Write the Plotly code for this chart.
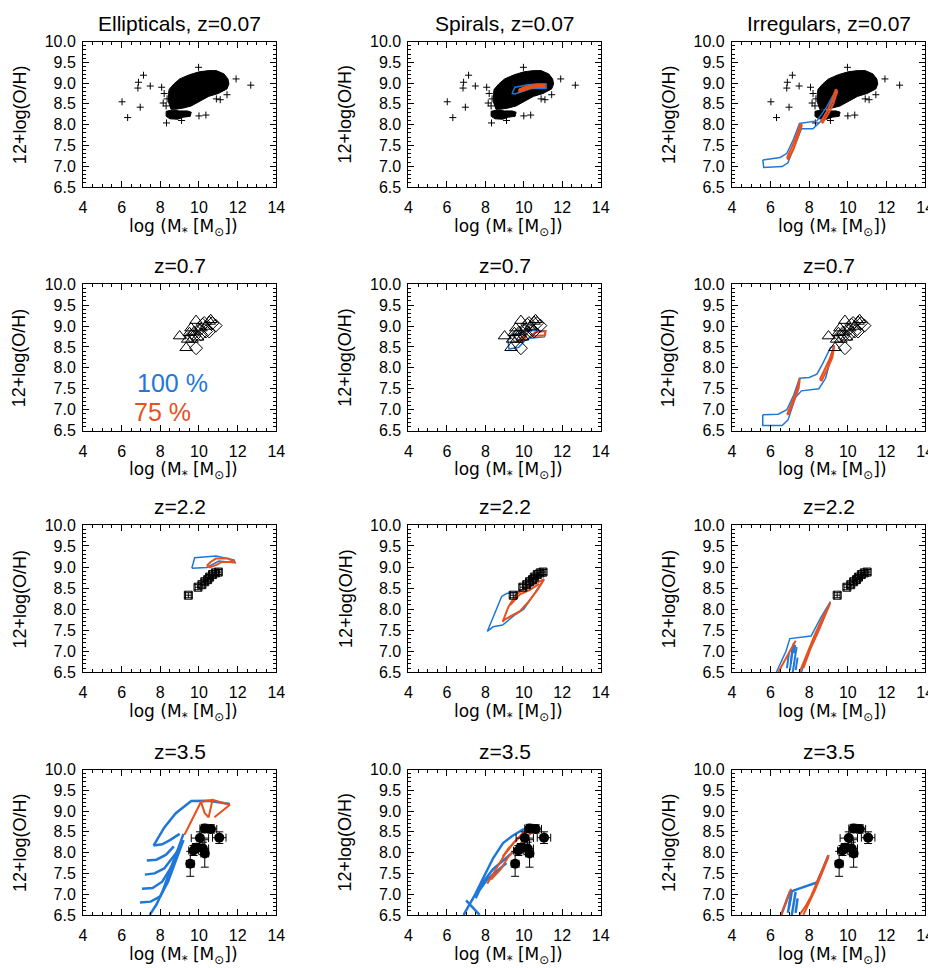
import plotly.graph_objects as go

BLUE = "#1f78d8"
ORANGE = "#e8501e"

# ---------------- data ----------------
# local sample (z=0.07): dense cloud outline + outliers
ell_blob_x = [8.46, 8.7, 9.0, 9.5, 10.0, 10.5, 10.9, 11.3, 11.5, 11.55, 11.45, 11.0, 10.5, 10.0, 9.6, 9.2, 8.8, 8.55, 8.42, 8.42, 8.46]
ell_blob_y = [8.85, 8.98, 9.1, 9.2, 9.27, 9.3, 9.3, 9.22, 9.1, 8.98, 8.86, 8.75, 8.68, 8.55, 8.45, 8.4, 8.37, 8.37, 8.55, 8.75, 8.85]
ell_strip_x = [8.3, 8.6, 9.0, 9.4, 9.6, 9.55, 9.2, 8.9, 8.5, 8.3, 8.3]
ell_strip_y = [8.32, 8.35, 8.33, 8.33, 8.3, 8.2, 8.18, 8.13, 8.14, 8.2, 8.32]
out_x = [6.02, 6.31, 6.84, 6.87, 7.13, 6.96, 7.48, 8.07, 8.15, 8.2, 11.92, 12.68, 10.0, 10.36, 9.98, 8.32, 11.45, 10.9, 11.1, 9.1, 8.35, 8.3]
out_y = [8.55, 8.17, 8.88, 9.02, 9.19, 8.42, 8.93, 8.90, 8.52, 8.75, 9.10, 8.95, 8.21, 8.23, 9.38, 8.04, 8.72, 8.62, 8.60, 8.10, 8.62, 8.45]

# z=0.7 data
tri_x = [9.0, 9.34, 9.85, 9.51, 9.64, 9.76, 9.93, 10.10, 10.36, 10.53, 10.61, 9.42, 9.59]
tri_y = [8.76, 8.48, 9.13, 8.84, 8.68, 8.87, 8.73, 8.95, 8.99, 9.11, 9.15, 8.68, 8.95]
dia_x = [9.85, 10.53, 10.86, 10.69, 10.27, 10.02, 9.76, 10.10, 10.36, 9.59, 10.19]
dia_y = [8.47, 8.87, 9.01, 9.07, 9.07, 8.91, 8.76, 8.80, 8.87, 8.76, 9.03]

# z=2.2 data
sq_x = [9.45, 9.95, 10.15, 10.3, 10.45, 10.55, 10.7, 10.85, 11.0]
sq_y = [8.33, 8.52, 8.58, 8.65, 8.70, 8.76, 8.82, 8.86, 8.88]
sq_xerr = [0.15, 0.15, 0.15, 0.15, 0.15, 0.15, 0.15, 0.15, 0.15]
sq_yerr = [0.06, 0.06, 0.06, 0.06, 0.06, 0.06, 0.06, 0.06, 0.06]

# z=3.5 data
ci_x = [9.55, 9.72, 9.85, 10.05, 10.2, 10.3, 10.3, 10.62, 11.05]
ci_y = [7.73, 8.05, 8.12, 8.35, 8.10, 7.98, 8.58, 8.57, 8.36]
ci_xerr = [0.2, 0.25, 0.2, 0.45, 0.3, 0.2, 0.25, 0.3, 0.35]
ci_yerr = [0.3, 0.12, 0.1, 0.15, 0.15, 0.33, 0.1, 0.1, 0.14]

# model regions
sp007_blue_x = [9.4, 9.54, 9.9, 10.22, 10.73, 11.16, 11.16, 10.7, 10.39, 9.88, 9.54, 9.4, 9.4]
sp007_blue_y = [8.76, 8.9, 8.93, 8.96, 8.98, 8.98, 8.87, 8.87, 8.87, 8.79, 8.74, 8.75, 8.76]
sp007_or_x = [9.75, 10.0, 10.3, 10.7, 11.1, 11.1, 10.7, 10.3, 10.0, 9.75, 9.75]
sp007_or_y = [8.85, 8.9, 8.94, 8.97, 8.97, 8.9, 8.9, 8.87, 8.82, 8.79, 8.85]

ir007_blue_x = [5.6, 6.5, 6.85, 7.2, 7.5, 8.4, 8.9, 9.4, 9.45, 9.1, 8.6, 8.2, 7.6, 7.3, 6.9, 6.6, 5.65, 5.6]
ir007_blue_y = [7.15, 7.21, 7.31, 7.66, 8.03, 8.09, 8.42, 8.84, 8.78, 8.45, 8.08, 7.9, 7.9, 7.55, 7.08, 6.99, 6.97, 7.15]
ir007_or1_x = [6.85, 7.1, 7.35, 7.55, 7.62, 7.42, 7.18, 6.92, 6.85]
ir007_or1_y = [7.2, 7.45, 7.75, 8.02, 7.98, 7.7, 7.4, 7.17, 7.2]
ir007_or2_x = [8.62, 8.9, 9.15, 9.38, 9.45, 9.25, 8.98, 8.7, 8.62]
ir007_or2_y = [8.08, 8.3, 8.55, 8.85, 8.8, 8.5, 8.25, 8.05, 8.08]

sp07_blue_x = [9.18, 9.23, 9.74, 10.05, 10.35, 11.07, 11.13, 10.45, 9.84, 9.33, 9.18]
sp07_blue_y = [8.66, 8.45, 8.49, 8.65, 8.71, 8.74, 8.88, 8.9, 8.84, 8.77, 8.66]
sp07_or1_x = [9.7, 9.9, 10.15, 10.1, 9.85, 9.7]
sp07_or1_y = [8.62, 8.7, 8.82, 8.72, 8.62, 8.62]
sp07_or2_x = [10.4, 10.6, 11.13, 11.1, 10.5, 10.4]
sp07_or2_y = [8.78, 8.85, 8.88, 8.78, 8.76, 8.78]

ir07_blue_x = [5.6, 6.4, 6.85, 7.2, 7.5, 8.0, 8.4, 8.7, 9.1, 9.3, 9.1, 8.85, 8.5, 7.6, 7.3, 6.9, 6.6, 5.6, 5.6]
ir07_blue_y = [6.88, 6.89, 7.0, 7.35, 7.75, 7.77, 7.85, 8.1, 8.48, 8.53, 8.2, 7.75, 7.5, 7.45, 7.3, 6.75, 6.62, 6.62, 6.88]
ir07_or1_x = [6.86, 7.1, 7.35, 7.52, 7.45, 7.2, 6.95, 6.86]
ir07_or1_y = [6.88, 7.15, 7.45, 7.75, 7.5, 7.2, 6.9, 6.88]
ir07_or2_x = [8.55, 8.8, 9.05, 9.3, 9.2, 8.95, 8.65, 8.55]
ir07_or2_y = [7.72, 7.95, 8.2, 8.53, 8.25, 7.98, 7.7, 7.72]

ell22_blue_x = [9.63, 9.78, 10.88, 11.81, 11.87, 11.03, 10.41, 9.63]
ell22_blue_y = [8.97, 9.22, 9.26, 9.17, 9.1, 9.14, 8.99, 8.97]
ell22_or_x = [10.41, 10.6, 10.88, 11.5, 11.87, 11.19, 10.9, 10.56, 10.41]
ell22_or_y = [9.03, 9.12, 9.2, 9.2, 9.12, 9.12, 9.05, 8.99, 9.03]

sp22_blue_x = [8.1, 8.5, 8.85, 9.1, 9.6, 10.2, 10.7, 11.05, 10.6, 10.0, 9.5, 8.9, 8.4, 8.1]
sp22_blue_y = [7.47, 7.9, 8.3, 8.37, 8.4, 8.5, 8.62, 8.72, 8.4, 8.0, 7.85, 7.62, 7.58, 7.47]
sp22_or1_x = [8.9, 9.2, 9.6, 10.1, 10.6, 11.05, 10.7, 10.2, 9.8, 9.4, 9.0, 8.9]
sp22_or1_y = [7.7, 8.05, 8.35, 8.5, 8.62, 8.7, 8.45, 8.15, 7.95, 7.85, 7.75, 7.7]
sp22_or2_x = [9.3, 9.8, 10.3, 10.8]
sp22_or2_y = [8.1, 8.35, 8.45, 8.6]

ir22_blue_x = [6.3, 6.8, 7.0, 7.6, 8.1, 8.6, 9.1, 8.5, 8.1, 7.8, 7.6]
ir22_blue_y = [6.5, 7.0, 7.3, 7.33, 7.36, 7.8, 8.18, 7.5, 7.1, 6.8, 6.5]
ir22_bs_x = [7.0, 7.1, 7.2, None, 7.15, 7.25, 7.35, None, 6.85, 6.95, None, 7.3, 7.4, None, 7.05, 7.12, None, 7.2, 7.28]
ir22_bs_y = [6.55, 6.9, 7.2, None, 6.5, 6.8, 7.1, None, 6.6, 6.95, None, 6.55, 6.85, None, 6.7, 7.05, None, 6.95, 7.15]
ir22_or1_x = [6.4, 6.8, 7.3]
ir22_or1_y = [6.5, 6.85, 7.25]
ir22_or2_x = [7.5, 7.8, 8.3, 8.7, 9.1]
ir22_or2_y = [6.5, 6.85, 7.4, 7.8, 8.15]
ir22_or3_x = [7.7, 8.1, 8.5, 9.05]
ir22_or3_y = [6.6, 7.1, 7.5, 8.1]

ell35_blue_x = [7.45, 7.8, 8.1, 8.5, 8.9, 9.2, None, 6.95, 7.5, 8.0, 8.4, 8.8, 9.2, None,
                7.05, 7.6, 8.1, 8.5, 8.9, None, 7.2, 7.7, 8.2, 8.6, 9.0, None,
                7.3, 7.8, 8.3, 8.7, None, 7.65, 8.1, 8.5, 9.0, None,
                7.65, 8.2, 8.8, 9.6, 10.5, 11.6]
ell35_blue_y = [6.5, 6.75, 7.05, 7.55, 8.05, 8.45, None, 6.8, 6.82, 6.95, 7.3, 7.8, 8.3, None,
                7.13, 7.15, 7.3, 7.6, 8.0, None, 7.47, 7.5, 7.62, 7.85, 8.1, None,
                7.81, 7.83, 7.95, 8.15, None, 8.17, 8.2, 8.3, 8.45, None,
                8.17, 8.6, 8.95, 9.24, 9.25, 9.17]
ell35_or_x = [9.25, 9.6, 9.9, 10.1, 10.7, 11.6, 11.2, 10.8, None, 10.1, 10.3, 10.5, 10.7]
ell35_or_y = [8.43, 8.75, 9.05, 9.22, 9.27, 9.15, 9.0, 8.85, None, 9.22, 8.95, 8.85, 9.27]

sp35_blue_x = [6.87, 7.48, 7.89, 8.41, 8.92, 9.4, 9.94, 10.4, 10.76, None, 7.5, 7.9, 8.4, 8.9, 9.4, None,
               7.7, 8.1, 8.6, 9.1, None, 7.7, 7.3, 7.0]
sp35_blue_y = [6.5, 7.0, 7.39, 7.87, 8.23, 8.4, 8.55, 8.6, 8.62, None, 6.9, 7.3, 7.6, 7.8, 8.0, None,
               7.1, 7.35, 7.55, 7.75, None, 6.5, 6.7, 6.85]
sp35_or_x = [8.1, 8.5, 9.0, 9.5, 10.0, 10.4, None, 8.3, 8.8, 9.2, 9.7, 10.2, 10.6, None, 8.9, 9.2, 9.6, 10.0]
sp35_or_y = [7.25, 7.55, 7.95, 8.25, 8.45, 8.58, None, 7.35, 7.6, 7.9, 8.15, 8.4, 8.55, None, 7.9, 8.1, 8.3, 8.5]

ir35_blue_x = [6.55, 7.0, 7.4, 7.9, 8.4, 8.7, 9.0, None, 6.9, 7.0, 7.1, None, 7.1, 7.2, 7.3, None, 7.3, 7.4, None, 6.95, 7.05]
ir35_blue_y = [6.5, 7.05, 7.12, 7.2, 7.28, 7.6, 7.94, None, 6.55, 6.85, 7.05, None, 6.5, 6.8, 7.05, None, 6.55, 6.9, None, 6.7, 6.95]
ir35_or_x = [6.55, 6.8, 7.06, None, 7.5, 7.8, 8.1, 8.5, 9.0, None, 7.7, 8.0, 8.3, 8.7, 9.0]
ir35_or_y = [6.5, 6.8, 7.13, None, 6.5, 6.7, 6.95, 7.4, 7.94, None, 6.5, 6.8, 7.1, 7.55, 7.9]

titles = [["Ellipticals, z=0.07", "Spirals, z=0.07", "Irregulars, z=0.07"],
          ["z=0.7", "z=0.7", "z=0.7"],
          ["z=2.2", "z=2.2", "z=2.2"],
          ["z=3.5", "z=3.5", "z=3.5"]]
x_ticks = [4, 6, 8, 10, 12, 14]
y_ticks = [6.5, 7.0, 7.5, 8.0, 8.5, 9.0, 9.5, 10.0]
y_ticktext = ["6.5", "7.0", "7.5", "8.0", "8.5", "9.0", "9.5", "10.0"]

# ---------------- layout ----------------
W, H = 936, 968
col_px = [(72, 268), (402, 597), (730, 926)]
row_px = [(26, 174), (273, 422), (518, 668), (767, 915)]
FONT = "Liberation Sans"
BOLDFONT = "DejaVu Sans"

fig = go.Figure()
layout = dict(width=W, height=H, margin=dict(l=0, r=0, t=0, b=0),
              paper_bgcolor="white", plot_bgcolor="white", showlegend=False,
              font=dict(family=FONT, color="black"))
annotations = []

for r in range(4):
    for c in range(3):
        i = r * 3 + c + 1
        xa = "x" if i == 1 else f"x{i}"
        ya = "y" if i == 1 else f"y{i}"
        x0, x1 = col_px[c]
        t, b = row_px[r]
        common = dict(showgrid=False, zeroline=False, showline=True, linecolor="black", linewidth=1,
                      mirror="allticks", ticks="inside", ticklen=6, tickcolor="black", tickwidth=1,
                      tickfont=dict(size=16, color="black", family=FONT))
        layout["xaxis" if i == 1 else f"xaxis{i}"] = dict(
            domain=[x0 / W, x1 / W], anchor=ya, range=[4, 14], tickmode="array", tickvals=x_ticks,
            minor=dict(ticks="inside", ticklen=3, dtick=0.5, tick0=4, tickcolor="black"),
            ticklabelstandoff=6, **common)
        layout["yaxis" if i == 1 else f"yaxis{i}"] = dict(
            domain=[1 - b / H, 1 - t / H], anchor=xa, range=[6.5, 10.0], tickmode="array",
            tickvals=y_ticks, ticktext=y_ticktext,
            minor=dict(ticks="inside", ticklen=3, dtick=0.1, tick0=6.5, tickcolor="black"),
            ticklabelstandoff=3, **common)
        cx = (x0 + x1) / 2 / W
        annotations.append(dict(text=titles[r][c], x=cx, y=1 - (t - 5) / H, xref="paper", yref="paper",
                                xanchor="center", yanchor="bottom", showarrow=False,
                                font=dict(size=21, color="black", family=FONT)))
        annotations.append(dict(text="log (M<sub>*</sub> [M<sub>⊙</sub>])", x=cx + 4 / W, y=1 - (b + 41) / H,
                                xref="paper", yref="paper", xanchor="center", yanchor="middle",
                                showarrow=False, font=dict(size=17, family=BOLDFONT, color="black")))
        annotations.append(dict(text="12+log(O/H)", x=(x0 - 64) / W, y=1 - (t + b) / 2 / H,
                                xref="paper", yref="paper", xanchor="center", yanchor="middle",
                                textangle=-90, showarrow=False, font=dict(size=18, color="black", family=FONT)))

def poly(i, x, y, color, width=1.2, fill=False):
    xa = "x" if i == 1 else f"x{i}"
    ya = "y" if i == 1 else f"y{i}"
    fig.add_trace(go.Scatter(x=x, y=y, xaxis=xa, yaxis=ya, mode="lines",
                             line=dict(color=color, width=width),
                             fill="toself" if fill else None, fillcolor=color if fill else None,
                             hoverinfo="skip"))

def local(i):
    poly(i, ell_blob_x, ell_blob_y, "black", 1, True)
    poly(i, ell_strip_x, ell_strip_y, "black", 1, True)
    fig.add_trace(go.Scatter(x=out_x, y=out_y, xaxis=f"x{i}" if i > 1 else "x", yaxis=f"y{i}" if i > 1 else "y",
                             mode="markers", marker=dict(symbol="cross-thin", size=5,
                                                          line=dict(color="black", width=1))))

def scat(i, x, y, symbol, size, xerr=None, yerr=None, filled=False):
    xa = "x" if i == 1 else f"x{i}"
    ya = "y" if i == 1 else f"y{i}"
    kw = {}
    if xerr is not None:
        kw["error_x"] = dict(type="data", array=xerr, color="black", thickness=1, width=4)
        kw["error_y"] = dict(type="data", array=yerr, color="black", thickness=1, width=4)
    mk = dict(symbol=symbol, size=size, color="black")
    if not filled:
        mk["line"] = dict(color="black", width=1)
    fig.add_trace(go.Scatter(x=x, y=y, xaxis=xa, yaxis=ya, mode="markers", marker=mk, **kw))

# row 1
local(1)
local(2)
poly(2, sp007_blue_x, sp007_blue_y, BLUE, 1.5)
poly(2, sp007_or_x, sp007_or_y, ORANGE, 1.5, True)
local(3)
poly(3, ir007_blue_x, ir007_blue_y, BLUE, 1.5)
poly(3, ir007_or1_x, ir007_or1_y, ORANGE, 2)
poly(3, ir007_or2_x, ir007_or2_y, ORANGE, 2)

# row 2
for i in (4, 5, 6):
    if i == 5:
        poly(5, sp07_blue_x, sp07_blue_y, BLUE, 1.5)
        poly(5, sp07_or1_x, sp07_or1_y, ORANGE, 2)
        poly(5, sp07_or2_x, sp07_or2_y, ORANGE, 2)
    if i == 6:
        poly(6, ir07_blue_x, ir07_blue_y, BLUE, 1.5)
        poly(6, ir07_or1_x, ir07_or1_y, ORANGE, 2)
        poly(6, ir07_or2_x, ir07_or2_y, ORANGE, 2)
    scat(i, tri_x, tri_y, "triangle-up-open", 11)
    scat(i, dia_x, dia_y, "diamond-open", 10)
annotations.append(dict(text="100 %", x=8.61, y=7.64, xref="x4", yref="y4", showarrow=False,
                        font=dict(size=25, color=BLUE, family=FONT)))
annotations.append(dict(text="75 %", x=8.12, y=6.95, xref="x4", yref="y4", showarrow=False,
                        font=dict(size=25, color=ORANGE, family=FONT)))

# row 3
poly(7, ell22_blue_x, ell22_blue_y, BLUE, 1.5)
poly(7, ell22_or_x, ell22_or_y, ORANGE, 2)
poly(8, sp22_blue_x, sp22_blue_y, BLUE, 1.5)
poly(8, sp22_or1_x, sp22_or1_y, ORANGE, 2)
poly(8, sp22_or2_x, sp22_or2_y, ORANGE, 2)
poly(9, ir22_blue_x, ir22_blue_y, BLUE, 1.5)
poly(9, ir22_bs_x, ir22_bs_y, BLUE, 2)
poly(9, ir22_or1_x, ir22_or1_y, ORANGE, 2)
poly(9, ir22_or2_x, ir22_or2_y, ORANGE, 2)
poly(9, ir22_or3_x, ir22_or3_y, ORANGE, 2)
for i in (7, 8, 9):
    scat(i, sq_x, sq_y, "square-open", 8, sq_xerr, sq_yerr)

# row 4
poly(10, ell35_blue_x, ell35_blue_y, BLUE, 2.5)
poly(10, ell35_or_x, ell35_or_y, ORANGE, 2)
poly(11, sp35_blue_x, sp35_blue_y, BLUE, 2.5)
poly(11, sp35_or_x, sp35_or_y, ORANGE, 2)
poly(12, ir35_blue_x, ir35_blue_y, BLUE, 2.5)
poly(12, ir35_or_x, ir35_or_y, ORANGE, 2)
for i in (10, 11, 12):
    scat(i, ci_x, ci_y, "circle", 10, ci_xerr, ci_yerr, filled=True)

layout["annotations"] = annotations
fig.update_layout(**layout)
fig.write_html("out.html")
